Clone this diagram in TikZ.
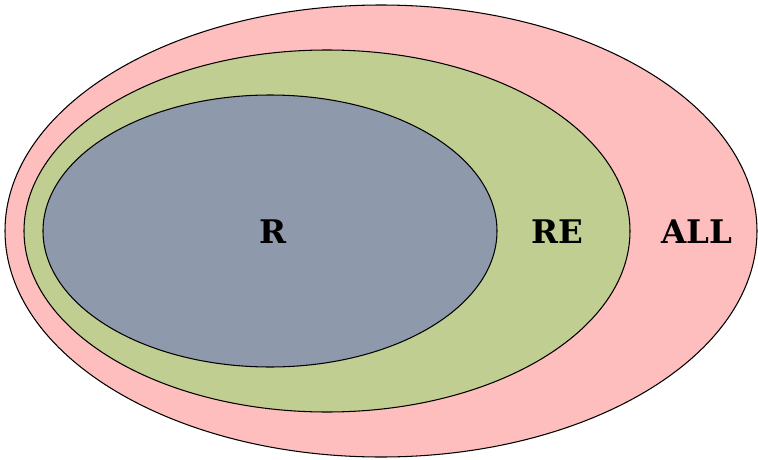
\documentclass[tikz,border=0pt]{standalone}
\usepackage{fontspec}
\setmainfont{DejaVu Serif}
\definecolor{allpink}{RGB}{255,190,190}
\definecolor{regreen}{RGB}{192,206,146}
\definecolor{rgrey}{RGB}{142,154,172}
\tikzset{
  % language classes
  langset/.style={draw=black, line width=0.6pt},
  langlabel/.style={font=\bfseries\fontsize{18.5}{22}\selectfont, inner sep=0pt}
}

\begin{document}
\begin{tikzpicture}[x=0.02cm, y=-0.02cm]
  \useasboundingbox (0,0) rectangle (758,460);

  %% ── Nested sets ──
  \draw[langset, fill=allpink] (381,231) ellipse [x radius=376, y radius=226];
  \draw[langset, fill=regreen] (327,231) ellipse [x radius=303, y radius=181];
  \draw[langset, fill=rgrey]   (270,231) ellipse [x radius=227, y radius=136];

  %% ── Labels ──
  \node[langlabel] (r)   at (273,232) {R};
  \node[langlabel] (re)  at (557,232) {RE};
  \node[langlabel] (all) at (697,232) {ALL};
\end{tikzpicture}
\end{document}
